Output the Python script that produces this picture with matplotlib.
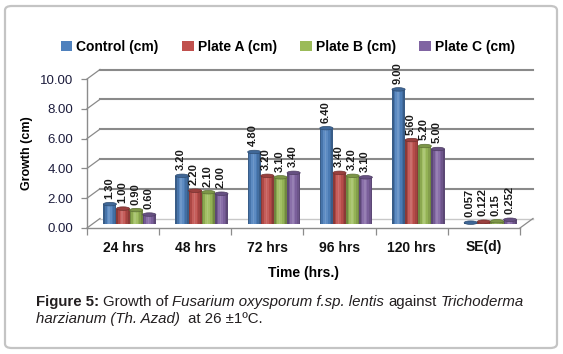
import numpy as np
import matplotlib
matplotlib.use('Agg')
import matplotlib.pyplot as plt
from matplotlib.patches import Ellipse, FancyBboxPatch
from matplotlib.colors import to_rgb

plt.rcParams['font.family'] = ['Liberation Sans', 'DejaVu Sans']

# data
categories = ['24 hrs', '48 hrs', '72 hrs', '96 hrs', '120 hrs', 'SE(d)']
series_names = ['Control (cm)', 'Plate A (cm)', 'Plate B (cm)', 'Plate C (cm)']
control = [1.30, 3.20, 4.80, 6.40, 9.00, 0.057]
plate_a = [1.00, 2.20, 3.20, 3.40, 5.60, 0.122]
plate_b = [0.90, 2.10, 3.10, 3.20, 5.20, 0.15]
plate_c = [0.60, 2.00, 3.40, 3.10, 5.00, 0.252]
yticks = [0, 2, 4, 6, 8, 10]

colors = ['#4F81BD', '#C0504D', '#9BBB59', '#8064A2']
series = [control, plate_a, plate_b, plate_c]

W, H = 563, 354
fig = plt.figure(figsize=(W / 100, H / 100), dpi=100)

# rounded frame round the figure
fig.patches.append(FancyBboxPatch((5 / W, 6 / H), 552 / W, 342 / H,
                                  boxstyle='round,pad=0,rounding_size=0.012',
                                  transform=fig.transFigure, fill=False,
                                  ec='#c4c4c4', lw=1.6))

# front plane of the plot (pixels from the top-left corner)
left, right, bottom, top = 87, 520, 228, 79
ax = fig.add_axes([left / W, (H - bottom) / H, (right - left) / W, (bottom - top) / H])
n = len(categories)
ax.set_xlim(-0.5, n - 0.5)
ax.set_ylim(0, 10)

px_x = (right - left) / n      # pixels per category
px_y = (bottom - top) / 10.0   # pixels per unit
# depth of the 3d box (back wall) and of the bars, in data units
back_dx, back_dy = 13 / px_x, 9.5 / px_y
bar_dx, bar_dy = 6.5 / px_x, 4.5 / px_y

grid_c = '#8a8a8a'
# back wall gridlines + slanted connectors on the left
for y in yticks:
    lc = '#c8c8c8' if y == 0 else grid_c
    lw = 1.0 if y == 0 else 1.5
    ax.plot([-0.5 + back_dx, n - 0.5 + back_dx], [y + back_dy, y + back_dy],
            color=lc, lw=lw, clip_on=False, zorder=1)
    ax.plot([-0.5, -0.5 + back_dx], [y, y + back_dy], color=grid_c, lw=0.9,
            clip_on=False, zorder=1)
# floor right edge
ax.plot([n - 0.5, n - 0.5 + back_dx], [0, back_dy], color=grid_c, lw=0.9,
        clip_on=False, zorder=1)

# cylinder shading profile across a bar
shade = [0.72, 0.9, 1.08, 1.18, 1.08, 0.95, 0.85, 0.72]


def tint(c, f):
    c = np.array(to_rgb(c))
    if f >= 1:
        return tuple(c + (1 - c) * (f - 1))
    return tuple(c * f)


bw = 0.182
x = np.arange(n)
for k, (vals, col) in enumerate(zip(series, colors)):
    xc = x + (k - 1.5) * bw + bar_dx
    ns = len(shade)
    sw = bw / ns
    for j, f in enumerate(shade):
        ax.bar(xc - bw / 2 + (j + 0.5) * sw, np.array(vals), width=sw * 1.02,
               bottom=bar_dy, color=tint(col, f), lw=0, zorder=3, clip_on=False)
    for xi, v in zip(xc, vals):
        ax.add_patch(Ellipse((xi, v + bar_dy), bw, 3.5 / px_y,
                             fc=tint(col, 0.8), ec=tint(col, 0.6), lw=0.5,
                             zorder=4, clip_on=False))
        lab = '%.2f' % v if v >= 0.5 else ('%g' % v)
        ax.annotate(lab, (xi, v + bar_dy), xytext=(-0.8, 4), textcoords='offset points',
                    rotation=90, ha='center', va='bottom', fontsize=8, fontweight='bold',
                    color='#1a1a1a', annotation_clip=False, zorder=5)

# axes styling
for s in ['top', 'right']:
    ax.spines[s].set_visible(False)
for s in ['left', 'bottom']:
    ax.spines[s].set_color('#8c8c8c')
    ax.spines[s].set_linewidth(1.0)
ax.patch.set_alpha(0)

ax.set_yticks(yticks)
ax.set_yticklabels(['%.2f' % t for t in yticks], fontsize=9.5, color='#1c1c3c')
ax.tick_params(axis='y', length=4, width=0.9, color='#8c8c8c', pad=6)

ax.set_xticks(np.arange(n + 1) - 0.5)
ax.set_xticklabels([])
ax.set_xticks(x, minor=True)
ax.set_xticklabels(categories, minor=True, fontsize=10, fontweight='bold', color='#111111')
ax.tick_params(axis='x', which='major', length=5, width=0.9, color='#8c8c8c')
ax.tick_params(axis='x', which='minor', length=0, pad=9)

ax.set_xlabel('Time (hrs.)', fontsize=10, fontweight='bold', labelpad=8)
ax.set_ylabel('Growth (cm)', fontsize=9, fontweight='bold', labelpad=5)

# legend across the top
handles = [plt.Rectangle((0, 0), 1, 1, fc=c) for c in colors]
fig.legend(handles, series_names, loc='center', bbox_to_anchor=(288 / W, (H - 47) / H),
           ncol=4, frameon=False, prop={'weight': 'bold', 'size': 10},
           handlelength=0.8, handleheight=0.8, handletextpad=0.3, columnspacing=1.7)

# caption with mixed styles, pieces placed one after another
caption = [
    [('Figure 5:', 'normal', 'bold'), ('Growth of', 'normal', 'normal'),
     ('Fusarium oxysporum f.sp. lentis', 'italic', 'normal'), ('against', 'normal', 'normal'),
     ('Trichoderma', 'italic', 'normal')],
    [('harzianum (Th. Azad)', 'italic', 'normal'), (' at 26 \u00b11\u00baC.', 'normal', 'normal')],
]
line_y = [306, 323]
fig.canvas.draw()
r = fig.canvas.get_renderer()
gap = 4.0
for pieces, yy in zip(caption, line_y):
    xx = 36.0
    for txt, st, wt in pieces:
        t = fig.text(xx / W, (H - yy) / H, txt, fontsize=10.8, style=st, fontweight=wt,
                     color='#231f20', va='baseline', ha='left')
        xx += t.get_window_extent(r).width + gap

fig.savefig('out.png', dpi=100)
